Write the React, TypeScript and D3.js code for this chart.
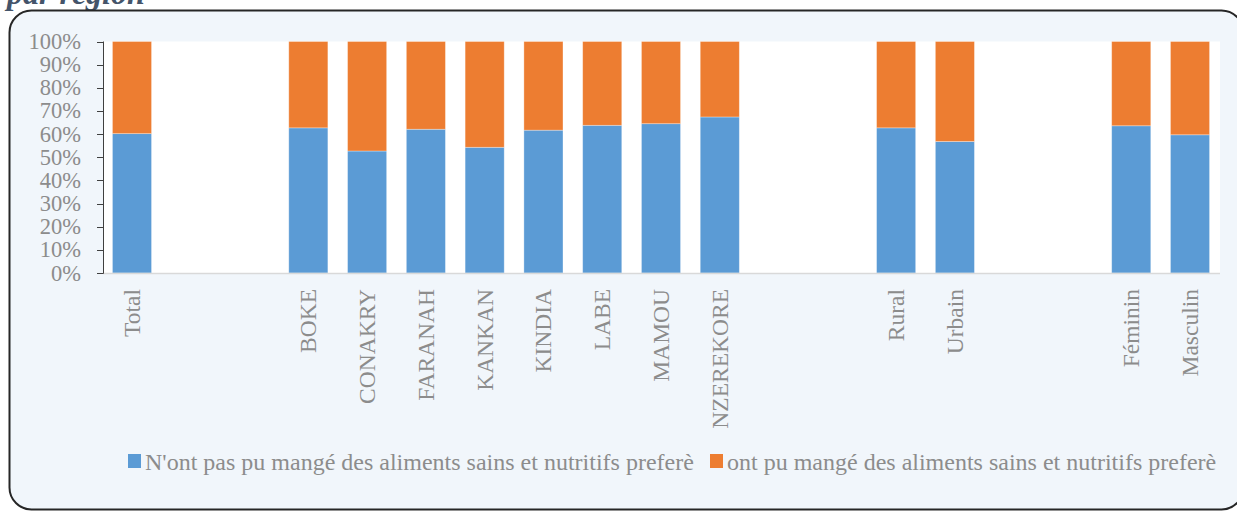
import React from "react";
import * as d3 from "d3";

const categories = [
  "Total", "_b1", "_b2",
  "BOKE", "CONAKRY", "FARANAH", "KANKAN", "KINDIA", "LABE", "MAMOU", "NZEREKORE",
  "_b3", "_b4",
  "Rural", "Urbain",
  "_b5", "_b6",
  "Féminin", "Masculin",
];
const notEaten: (number | null)[] = [
  60.2, null, null,
  62.7, 52.7, 62.1, 54.3, 61.7, 63.8, 64.5, 67.4,
  null, null,
  62.7, 56.8,
  null, null,
  63.6, 59.7,
];
const eaten: (number | null)[] = notEaten.map((v) => (v == null ? null : 100 - v));
const yTicks = [0, 10, 20, 30, 40, 50, 60, 70, 80, 90, 100];
const seriesNames = [
  "N'ont pas pu mangé des aliments sains et nutritifs preferè",
  "ont pu mangé des aliments sains et nutritifs preferè",
];
const colors = ["#5b9bd5", "#ed7d31"];

const W = 1237;
const H = 511;
const FONT = "'Liberation Serif', 'Times New Roman', serif";

export default function App() {
  const x = d3.scaleBand<string>().domain(categories).range([102.6, 1219.4]).paddingInner(0.335).paddingOuter(0.1675);
  const y = d3.scaleLinear().domain([0, 100]).range([273, 41.5]);
  const bw = x.bandwidth();

  return (
    <svg width={W} height={H} style={{ position: "absolute", left: 0, top: 0 }} fontFamily={FONT}>
      <text x={7} y={4} fontSize={32} fontWeight="bold" fontStyle="italic" fill="#44546a">
        par région
      </text>
      <rect x={9.5} y={10.5} width={1234} height={499} rx={22} ry={22} fill="#f1f6fb" stroke="#262626" strokeWidth={2} />
      <rect x={103} y={41.5} width={1117} height={231.5} fill="#ffffff" />
      {categories.map((c, i) => {
        const v1 = notEaten[i];
        const v2 = eaten[i];
        if (v1 == null || v2 == null) return null;
        const x0 = x(c)!;
        return (
          <g key={c}>
            <rect x={x0} y={y(v1)} width={bw} height={y(0) - y(v1)} fill={colors[0]} stroke="#ffffff" strokeOpacity={0.4} strokeWidth={0.8} />
            <rect x={x0} y={y(100)} width={bw} height={y(v1) - y(100)} fill={colors[1]} stroke="#ffffff" strokeOpacity={0.4} strokeWidth={0.8} />
          </g>
        );
      })}
      <line x1={103} x2={1220} y1={273.5} y2={273.5} stroke="#d9d9d9" strokeWidth={1.5} />
      <line x1={103.5} x2={103.5} y1={41.5} y2={273.5} stroke="#404040" strokeWidth={1} />
      {yTicks.map((t) => (
        <g key={t}>
          <line x1={97} x2={103.5} y1={Math.round(y(t)) + 0.5} y2={Math.round(y(t)) + 0.5} stroke="#404040" strokeWidth={1} />
          <text x={81} y={y(t) + 7.5} fontSize={22.5} fill="#8c8c8c" textAnchor="end">
            {t}%
          </text>
        </g>
      ))}
      {categories.map((c) =>
        c.startsWith("_") ? null : (
          <text
            key={c}
            transform={`translate(${x(c)! + bw / 2 + 8},289) rotate(-90)`}
            fontSize={23.5}
            fill="#8c8c8c"
            textAnchor="end"
          >
            {c}
          </text>
        )
      )}
      <rect x={128} y={454} width={13} height={14} fill={colors[0]} />
      <text x={145} y={470} fontSize={24} fill="#8c8c8c">{seriesNames[0]}</text>
      <rect x={710} y={454} width={13} height={14} fill={colors[1]} />
      <text x={727} y={470} fontSize={24} fill="#8c8c8c">{seriesNames[1]}</text>
    </svg>
  );
}
